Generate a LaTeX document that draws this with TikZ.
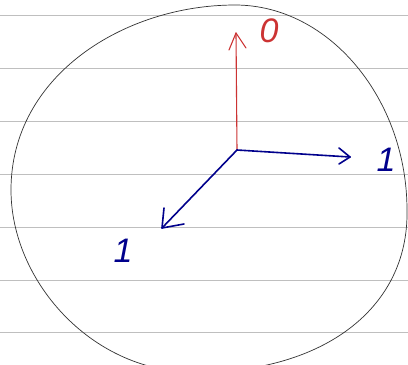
\documentclass[tikz,border=0pt]{standalone}
\usepackage{fontspec}
\setmainfont{Liberation Sans}
\begin{document}
\begin{tikzpicture}[x=1pt,y=-1pt,
  ruled/.style={draw=black!25,line width=0.9pt},
  outline/.style={draw=black!80,line width=0.7pt},
  redpen/.style={draw=red!75!black!80,line width=1.1pt,line cap=round,line join=round},
  bluepen/.style={draw=blue!55!black,line width=1.6pt,line cap=round,line join=round},
  lab/.style={font=\fontsize{34}{36}\selectfont\itshape,inner sep=0pt}]
\useasboundingbox (0,0) rectangle (408,365);
\clip (0,0) rectangle (408,365);
\fill[white] (0,0) rectangle (408,365);
% ruled lines
\foreach \y in {15,68,121,174,227,280,332}
  \draw[ruled] (0,\y) -- (408,\y);
% closed curve
\draw[outline] (235,5) .. controls (330,5) and (407,100) .. (407,210)
  .. controls (409,310) and (320,375) .. (190,372)
  .. controls (90,370) and (11,280) .. (11,190)
  .. controls (11,75) and (125,5) .. (235,5) -- cycle;
% origin and tips
\coordinate (o) at (237,150);
\coordinate (up) at (236,33);
\coordinate (rt) at (350,157);
\coordinate (dl) at (162,228);
% red axis
\draw[redpen] (o) -- (up);
\draw[redpen] (229,50) -- (up) -- (246,48);
\node[lab,text=red!75!black!80] (zero) at (269,31) {0};
% blue axes
\draw[bluepen] (o) -- (rt);
\draw[bluepen] (339,148) -- (rt) -- (339,164);
\draw[bluepen] (o) -- (dl);
\draw[bluepen] (164,208) -- (dl) -- (184,224);
\node[lab,text=blue!55!black] (one1) at (386,160) {1};
\node[lab,text=blue!55!black] (one2) at (123,251) {1};
\end{tikzpicture}
\end{document}
